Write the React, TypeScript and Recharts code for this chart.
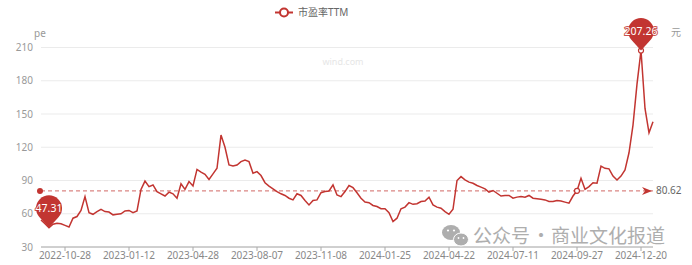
import { CartesianGrid, Line, LineChart, ReferenceDot, ReferenceLine, XAxis, YAxis } from "recharts";

// 市盈率TTM, sampled roughly every 4px of the original trace
const peTtm = [
  54.3, 51, 47.31, 50.5, 51.5, 51, 49.5, 48, 56, 57.5,
  63, 75.5, 61, 59.5, 62, 64, 62, 61.5, 59, 59.5,
  60, 62.5, 63, 61, 62.5, 82, 89.5, 84.5, 86, 80,
  78, 76, 79.5, 78, 74, 87, 82, 89, 85, 100,
  97.5, 95.5, 91, 96, 101, 131, 120, 104, 103, 104,
  107, 108.5, 107, 96.5, 98, 94.5, 88, 85, 82.5, 80,
  78, 76.5, 74, 72.5, 78, 76.5, 72, 68, 72, 72.5,
  79, 80, 80.5, 86, 77, 75.5, 80, 85.5, 83.5, 79,
  74, 70.5, 70, 67.5, 66.5, 64.5, 64.5, 61, 53, 56,
  64.5, 66, 70, 68.5, 69, 71, 71.5, 75, 68, 66,
  65, 62, 59.5, 64, 90, 93.5, 90.5, 88.5, 87.5, 85.5,
  84, 82.5, 79.5, 81, 78.5, 76, 76.5, 76.5, 74, 75,
  75.5, 75, 76.5, 74, 73.5, 73, 72.5, 71, 71, 72,
  71.5, 70.5, 69.5, 76, 80.7, 92, 82, 84.5, 88, 87.5,
  103, 101, 100.5, 94, 90.5, 94, 99.5, 115, 140, 177,
  207.26, 155, 133, 143,
];

const tickIndex = [6, 22, 38, 54, 70, 86, 102, 118, 134, 150];
const tickDates = [
  "2022-10-28", "2023-01-12", "2023-04-28", "2023-08-07", "2023-11-08",
  "2024-01-25", "2024-04-22", "2024-07-11", "2024-09-27", "2024-12-20",
];
const yTicks = [30, 60, 90, 120, 150, 180, 210];
const peMean = 80.62;
const hollowIdx = [134];

const RED = "#c23531";

const data = peTtm.map((pe, i) => ({ i, pe }));
const minIdx = peTtm.indexOf(Math.min(...peTtm));
const maxIdx = peTtm.indexOf(Math.max(...peTtm));

function Pin({ cx, cy, text }: { cx: number; cy: number; text: string }) {
  const r = 13;
  const d = 19.5;
  const cc = cy - d;
  const k = r / d;
  const s = Math.sqrt(1 - k * k);
  const lx = cx - r * s;
  const rx = cx + r * s;
  const ty = cc + r * k;
  return (
    <g>
      <path d={`M${cx},${cy} L${lx},${ty} A${r},${r} 0 1 1 ${rx},${ty} Z`} fill={RED} />
      <text
        x={cx}
        y={cc}
        dy="0.35em"
        textAnchor="middle"
        fill="#fff"
        stroke={RED}
        strokeWidth={2}
        strokeOpacity={0.85}
        paintOrder="stroke"
        fontSize={10.5}
      >
        {text}
      </text>
    </g>
  );
}

function renderDot(props: any) {
  const { cx, cy, index } = props;
  if (index === maxIdx || hollowIdx.includes(index)) {
    return <circle key={`d${index}`} cx={cx} cy={cy} r={2.5} fill="#fff" stroke={RED} strokeWidth={1.2} />;
  }
  return <g key={`d${index}`} />;
}

function MeanMark(props: any) {
  const { x, y, width } = props.viewBox;
  const end = x + width;
  return (
    <g>
      <circle cx={x - 1} cy={y} r={3} fill={RED} />
      <path d={`M${end - 11},${y - 4} L${end - 1},${y} L${end - 11},${y + 4} L${end - 8},${y} Z`} fill={RED} />
      <text x={end + 3} y={y} dy="0.35em" fontSize={10} fill="#666">
        {peMean}
      </text>
    </g>
  );
}

export default function App() {
  return (
    <div
      style={{
        position: "absolute",
        left: 0,
        top: 0,
        width: 692,
        height: 265,
        background: "#fff",
        fontFamily: "'Noto Sans', 'Noto Sans CJK SC', sans-serif",
      }}
    >
      <LineChart width={692} height={265} data={data} margin={{ top: 47.5, right: 39, bottom: 0, left: 8 }}>
        <CartesianGrid vertical={false} stroke="#ebebeb" />
        <XAxis
          type="number"
          dataKey="i"
          domain={[0, peTtm.length - 1]}
          ticks={tickIndex}
          interval={0}
          tickFormatter={(v: number) => tickDates[tickIndex.indexOf(v)]}
          axisLine={{ stroke: "#aaa" }}
          tickLine={{ stroke: "#aaa" }}
          tickSize={4}
          tickMargin={1}
          height={18}
          tick={{ fontSize: 10, fill: "#888" }}
        />
        <YAxis
          domain={[30, 210]}
          ticks={yTicks}
          axisLine={false}
          tickLine={false}
          tickSize={0}
          tickMargin={8}
          width={33}
          tick={{ fontSize: 10, fill: "#999" }}
        />
        <ReferenceLine
          y={peMean}
          stroke={RED}
          strokeOpacity={0.75}
          strokeDasharray="4 3"
          label={(p: any) => <MeanMark {...p} />}
        />
        <Line
          type="linear"
          dataKey="pe"
          stroke={RED}
          strokeWidth={1.5}
          dot={renderDot}
          activeDot={false}
          isAnimationActive={false}
        />
        <ReferenceDot
          x={minIdx}
          y={peTtm[minIdx]}
          ifOverflow="visible"
          shape={(p: any) => <Pin cx={p.cx} cy={p.cy} text={peTtm[minIdx].toFixed(2)} />}
        />
        <ReferenceDot
          x={maxIdx}
          y={peTtm[maxIdx]}
          ifOverflow="visible"
          shape={(p: any) => <Pin cx={p.cx} cy={p.cy} text={peTtm[maxIdx].toFixed(2)} />}
        />
      </LineChart>
      <svg
        width={692}
        height={265}
        style={{ position: "absolute", left: 0, top: 0, pointerEvents: "none", overflow: "visible" }}
      >
        <line x1={275} y1={12.5} x2={293} y2={12.5} stroke={RED} strokeWidth={2} />
        <circle cx={284} cy={12.5} r={4} fill="#fff" stroke={RED} strokeWidth={2} />
        <text x={298} y={12.5} dy="0.35em" fontSize={10} fill="#666">
          市盈率TTM
        </text>
        <text x={40} y={33} dy="0.35em" textAnchor="middle" fontSize={10} fill="#999">
          pe
        </text>
        <text x={676} y={32} dy="0.35em" textAnchor="middle" fontSize={10} fill="#999">
          元
        </text>
        <text x={343} y={62} dy="0.35em" textAnchor="middle" fontSize={9} fill="#e6e6e6">
          wind.com
        </text>
        <g fill="#a6a6a6" opacity={0.9}>
          <ellipse cx={451} cy={232.5} rx={9} ry={7.5} />
          <ellipse cx={461} cy={239.5} rx={7.5} ry={6.5} stroke="#fff" strokeWidth={1} />
          <circle cx={448} cy={230.5} r={1.1} fill="#fff" />
          <circle cx={454} cy={230.5} r={1.1} fill="#fff" />
          <circle cx={458.5} cy={238} r={0.9} fill="#fff" />
          <circle cx={463.5} cy={238} r={0.9} fill="#fff" />
          <text x={473} y={236.5} dy="0.36em" fontSize={19} fontFamily="'Noto Sans CJK SC', sans-serif">
            公众号
          </text>
          <text x={541} y={236.5} dy="0.36em" textAnchor="middle" fontSize={19} fontFamily="'Noto Sans CJK SC', sans-serif">
            ·
          </text>
          <text x={551} y={236.5} dy="0.36em" fontSize={19} fontFamily="'Noto Sans CJK SC', sans-serif">
            商业文化报道
          </text>
        </g>
      </svg>
    </div>
  );
}
